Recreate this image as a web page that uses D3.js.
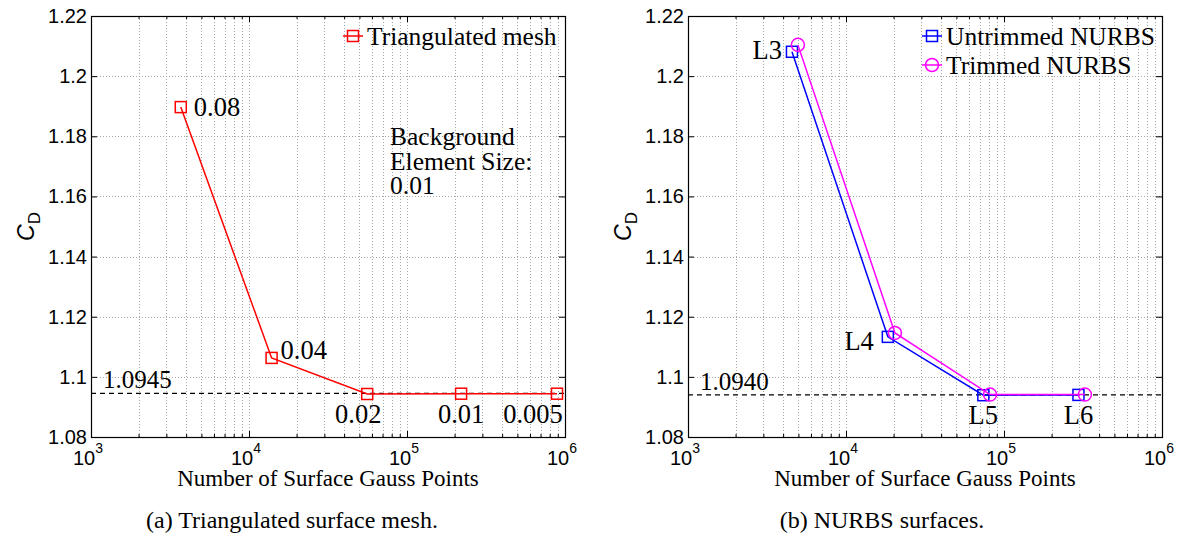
<!DOCTYPE html>
<html>
<head>
<meta charset="utf-8">
<script src="https://cdn.jsdelivr.net/npm/d3@7"></script>
<style>
	body{margin:0;background:#fff;}
	svg{display:block;}
	.tick-label{font-family:"Liberation Sans",Arial,sans-serif;font-size:20px;fill:#000;}
	.serif{font-family:"Liberation Serif","Times New Roman",serif;fill:#000;}
</style>
</head>
<body>
<svg id="chart" width="1186" height="535"></svg>
<script>
// ---- data ----
const xDomain = [1e3, 1e6];
const yDomain = [1.08, 1.22];
const yTicks = [1.08, 1.1, 1.12, 1.14, 1.16, 1.18, 1.2, 1.22];
const xTickExp = [3, 4, 5, 6];

// panel (a)
const meshPoints = [3700, 13900, 56000, 220000, 890000];
const meshCD = [1.1897, 1.1063, 1.0943, 1.0944, 1.0944];
const meshLabels = ["0.08", "0.04", "0.02", "0.01", "0.005"];
const meshRef = 1.0945;

// panel (b)
const untrimmedPoints = [4550, 18400, 74000, 296000];
const untrimmedCD = [1.2081, 1.1133, 1.0939, 1.0940];
const trimmedPoints = [4960, 20400, 81600, 325000];
const trimmedCD = [1.2104, 1.1146, 1.0941, 1.0941];
const levelLabels = ["L3", "L4", "L5", "L6"];
const nurbsRef = 1.0940;

const svg = d3.select("#chart");

function drawPanel(opt){
	let left = opt.left,
		right = opt.right,
		top = 16,
		bottom = 437,
		g = svg.append("g"),
		x = d3.scaleLog().domain(xDomain).range([left, right]),
		y = d3.scaleLinear().domain(yDomain).range([bottom, top]),
		minorX = [];

	for(let e = 3; e < 6; e++){
		for(let m = 2; m <= 9; m++) minorX.push(m*Math.pow(10, e));
	}
	let majorX = xTickExp.map(e => Math.pow(10, e));

	// grid
	let grid = g.append("g").attr("class", "grid")
		.attr("stroke", "#a8a8a8").attr("stroke-width", 1).attr("stroke-dasharray", "1,2");
	grid.selectAll("line.gx").data(majorX.concat(minorX).filter(v => v > xDomain[0] && v < xDomain[1]))
		.enter().append("line")
		.attr("x1", d => Math.round(x(d))+0.5).attr("x2", d => Math.round(x(d))+0.5)
		.attr("y1", top).attr("y2", bottom);
	grid.selectAll("line.gy").data(yTicks.slice(1, -1))
		.enter().append("line")
		.attr("y1", d => Math.round(y(d))+0.5).attr("y2", d => Math.round(y(d))+0.5)
		.attr("x1", left).attr("x2", right);

	// axes, ticks inward on all four sides
	let axB = d3.axisBottom(x).tickValues(majorX).tickSize(-6).tickFormat(""),
		axT = d3.axisTop(x).tickValues(majorX).tickSize(-6).tickFormat(""),
		axBm = d3.axisBottom(x).tickValues(minorX).tickSize(-3).tickFormat(""),
		axTm = d3.axisTop(x).tickValues(minorX).tickSize(-3).tickFormat(""),
		axL = d3.axisLeft(y).tickValues(yTicks).tickSize(-6).tickFormat(""),
		axR = d3.axisRight(y).tickValues(yTicks).tickSize(-6).tickFormat("");

	[[axB, bottom], [axBm, bottom], [axT, top], [axTm, top]].forEach(a => {
		g.append("g").attr("transform", "translate(0," + a[1] + ")").call(a[0])
			.call(s => s.select(".domain").remove());
	});
	g.append("g").attr("transform", "translate(" + left + ",0)").call(axL).call(s => s.select(".domain").remove());
	g.append("g").attr("transform", "translate(" + right + ",0)").call(axR).call(s => s.select(".domain").remove());
	g.selectAll(".tick line").attr("stroke", "#000");

	g.append("rect").attr("x", left+0.5).attr("y", top+0.5)
		.attr("width", right-left).attr("height", bottom-top)
		.attr("fill", "none").attr("stroke", "#000").attr("stroke-width", 1.2);

	// tick labels
	g.selectAll("text.yl").data(yTicks).enter().append("text")
		.attr("class", "tick-label")
		.attr("x", left-4).attr("y", d => y(d)+7)
		.attr("text-anchor", "end")
		.text(d => d3.format("")(+d.toFixed(2)));
	let xl = g.selectAll("text.xl").data(xTickExp).enter().append("text")
		.attr("class", "tick-label")
		.attr("x", d => x(Math.pow(10, d)) - 3).attr("y", bottom+28)
		.attr("text-anchor", "middle");
	xl.append("tspan").text("10");
	xl.append("tspan").attr("dy", -12).attr("font-size", "14px").text(d => d);

	// axis titles
	g.append("text").attr("class", "serif").attr("font-size", "23px")
		.attr("x", (left+right)/2).attr("y", bottom+49).attr("text-anchor", "middle")
		.text("Number of Surface Gauss Points");
	let yt = g.append("text").attr("transform", "translate(" + (left-57) + "," + ((top+bottom)/2) + ") rotate(-90)")
		.attr("text-anchor", "middle").attr("font-family", "Liberation Sans, Arial, sans-serif").attr("font-size", "23px");
	yt.append("tspan").attr("font-style", "italic").text("C");
	yt.append("tspan").attr("dy", 6).attr("font-size", "17px").text("D");

	g.append("text").attr("class", "serif").attr("font-size", "24px")
		.attr("x", opt.captionX).attr("y", 528).attr("text-anchor", "middle")
		.text(opt.caption);

	// reference line
	g.append("line").attr("x1", left).attr("x2", right)
		.attr("y1", y(opt.ref)).attr("y2", y(opt.ref))
		.attr("stroke", "#000").attr("stroke-width", 1.2).attr("stroke-dasharray", "5,4");
	g.append("text").attr("class", "serif").attr("font-size", "25px")
		.attr("x", left+12).attr("y", y(opt.ref)-5)
		.text(opt.ref.toFixed(4));

	let line = d3.line().x(d => x(d[0])).y(d => y(d[1]));

	opt.series.forEach(s => {
		let pts = d3.zip(s.xs, s.ys);
		g.append("path").datum(pts).attr("d", line)
			.attr("fill", "none").attr("stroke", s.color).attr("stroke-width", 1.5);
		drawMarkers(g, pts.map(p => [x(p[0]), y(p[1])]), s);
	});

	// legend
	opt.series.forEach((s, i) => {
		let ly = 36 + i*29, lx = opt.legendX;
		g.append("line").attr("x1", lx).attr("x2", lx+20).attr("y1", ly).attr("y2", ly)
			.attr("stroke", s.color).attr("stroke-width", 1.5);
		drawMarkers(g, [[lx+10, ly]], s);
		g.append("text").attr("class", "serif").attr("font-size", "25.5px")
			.attr("x", lx+24).attr("y", ly+9).text(s.name);
	});

	return {g: g, x: x, y: y};
}

function drawMarkers(g, pts, s){
	if(s.marker === "square"){
		g.selectAll(null).data(pts).enter().append("rect")
			.attr("x", d => d[0]-5.5).attr("y", d => d[1]-5.5)
			.attr("width", 11).attr("height", 11)
			.attr("fill", "none").attr("stroke", s.color).attr("stroke-width", 1.5);
	} else {
		g.selectAll(null).data(pts).enter().append("circle")
			.attr("cx", d => d[0]).attr("cy", d => d[1]).attr("r", 6.5)
			.attr("fill", "none").attr("stroke", s.color).attr("stroke-width", 1.5);
	}
}

// ---- panel (a) ----
let pa = drawPanel({
	left: 91, right: 565, ref: meshRef, legendX: 343, captionX: 292,
	caption: "(a) Triangulated surface mesh.",
	series: [{name: "Triangulated mesh", xs: meshPoints, ys: meshCD, color: "#ff0000", marker: "square"}]
});
let aLab = [
	{dx: 13, dy: 9, anchor: "start"},
	{dx: 9, dy: 1, anchor: "start"},
	{dx: -9, dy: 29, anchor: "middle"},
	{dx: 0, dy: 29, anchor: "middle"},
	{dx: -24, dy: 29, anchor: "middle"}
];
pa.g.selectAll("text.ml").data(meshLabels).enter().append("text")
	.attr("class", "serif").attr("font-size", "26.5px")
	.attr("x", (d, i) => pa.x(meshPoints[i]) + aLab[i].dx)
	.attr("y", (d, i) => pa.y(meshCD[i]) + aLab[i].dy)
	.attr("text-anchor", (d, i) => aLab[i].anchor)
	.text(d => d);
let bg = pa.g.append("text").attr("class", "serif").attr("font-size", "25.5px");
["Background", "Element Size:", "0.01"].forEach((t, i) => {
	bg.append("tspan").attr("x", 390).attr("y", 145 + i*24.5).text(t);
});

// ---- panel (b) ----
let pb = drawPanel({
	left: 688, right: 1162, ref: nurbsRef, legendX: 922, captionX: 882,
	caption: "(b) NURBS surfaces.",
	series: [
		{name: "Untrimmed NURBS", xs: untrimmedPoints, ys: untrimmedCD, color: "#0000ff", marker: "square"},
		{name: "Trimmed NURBS", xs: trimmedPoints, ys: trimmedCD, color: "#ff00ff", marker: "circle"}
	]
});
let bLab = [
	{dx: -10, dy: 7, anchor: "end"},
	{dx: -14, dy: 13, anchor: "end"},
	{dx: 0, dy: 29, anchor: "middle"},
	{dx: 0, dy: 29, anchor: "middle"}
];
pb.g.selectAll("text.ll").data(levelLabels).enter().append("text")
	.attr("class", "serif").attr("font-size", "26.5px")
	.attr("x", (d, i) => pb.x(untrimmedPoints[i]) + bLab[i].dx)
	.attr("y", (d, i) => pb.y(untrimmedCD[i]) + bLab[i].dy)
	.attr("text-anchor", (d, i) => bLab[i].anchor)
	.text(d => d);
</script>
</body>
</html>
